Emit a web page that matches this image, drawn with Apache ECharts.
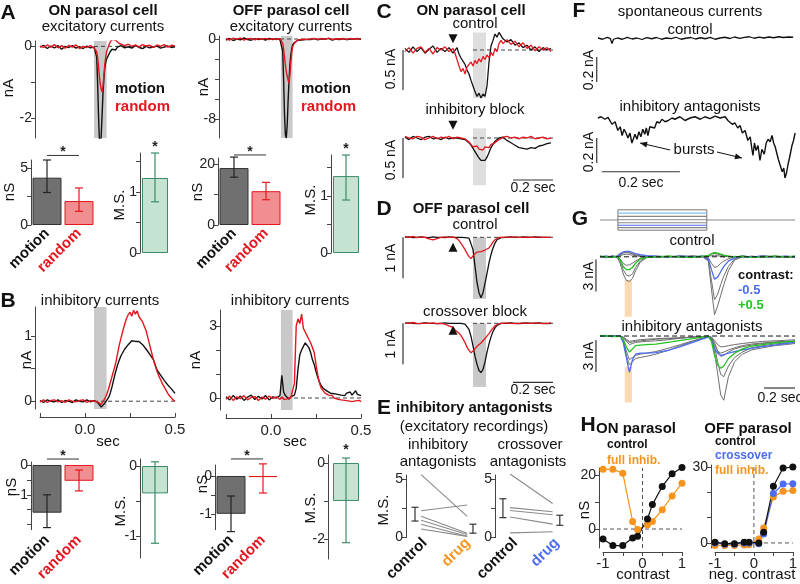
<!DOCTYPE html>
<html><head><meta charset="utf-8"><title>Figure</title>
<script src="https://cdn.jsdelivr.net/npm/echarts@6.0.0/dist/echarts.min.js"></script>
<style>html,body{margin:0;padding:0;background:#fff;}#chart{width:800px;height:584px;}</style>
</head><body><div id="chart"></div>
<script>
// ================= DATA =================
// Panel A: excitatory currents (nA) vs time (s)
const tA = [-0.25,-0.23,-0.21,-0.19,-0.17,-0.15,-0.13,-0.11,-0.09,-0.07,-0.05,-0.03,-0.01,0.01,0.03,0.05,0.06,0.065,0.07,0.075,0.08,0.085,0.09,0.095,0.1,0.105,0.11,0.115,0.12,0.13,0.14,0.15,0.16,0.17,0.18,0.19,0.2,0.22,0.24,0.26,0.28,0.3,0.32,0.34,0.36,0.38,0.4,0.42,0.44,0.46,0.48,0.5];
const aOnMotion = [-0.02,0.03,-0.06,0.01,-0.04,0.02,-0.08,0.0,-0.03,0.02,-0.05,-0.01,-0.06, 0.01,-0.04,-0.02, -0.05,-0.3,-1.0,-1.9,-2.6,-2.8,-2.5,-1.9,-1.3,-0.9,-0.6,-0.45,-0.35, -0.25,-0.15,-0.08,-0.04,-0.1,-0.02,-0.05,0.02, -0.04,-0.01,-0.05,0.02,-0.03,-0.06,0.0,-0.04,-0.02,0.01,-0.05,-0.02,0.01,-0.03,-0.01];
const aOnRandom = [0.01,-0.03,0.04,-0.02,0.05,-0.04,0.02,-0.05,0.03,-0.02,0.04,-0.06,0.0, -0.03,0.02,-0.05, -0.08,-0.15,-0.3,-0.55,-0.85,-1.05,-1.2,-1.27,-1.1,-0.8,-0.5,-0.3,-0.15, 0.0,0.12,0.2,0.22,0.17,0.12,0.08,0.05, 0.02,0.06,0.0,0.04,-0.02,0.05,0.01,0.03,-0.03,0.04,0.0,0.05,-0.02,0.03,0.01];
const aOffMotion = [-0.1,0.05,-0.15,0.0,-0.08,0.1,-0.05,-0.12,0.04,-0.06,0.02,-0.1,0.05, -0.05,0.03,-0.08, -0.2,-1.2,-4.0,-7.5,-9.6,-9.9,-8.6,-6.2,-4.2,-2.6,-1.6,-1.0,-0.6, -0.35,-0.2,-0.12,-0.05,-0.1,0.02,-0.06,0.03, -0.05,0.04,-0.08,0.02,-0.04,0.06,-0.1,0.0,-0.05,0.03,-0.07,0.02,-0.03,0.05,-0.02];
const aOffRandom = [0.05,-0.1,0.08,-0.04,0.1,-0.12,0.03,0.06,-0.08,0.05,-0.03,0.07,-0.06, 0.02,-0.05,0.04, -0.1,-0.4,-1.0,-1.8,-2.6,-3.3,-3.5,-4.1,-4.4,-3.6,-2.4,-1.4,-0.8, -0.4,-0.2,-0.1,0.05,-0.05,0.08,-0.02,0.04, 0.0,0.06,-0.04,0.05,-0.02,0.08,-0.06,0.03,0.0,0.05,-0.04,0.06,-0.02,0.03,0.01];
const bandOn = [0.05, 0.12];
const bandOff = [0.055, 0.12];

// Panel A bars
const barCats = ['motion', 'random'];
const aOnNS = [4.15, 2.1],  aOnNSlo = [2.85, 1.2],  aOnNShi = [5.7, 3.25];
const aOnMS = [1.23],       aOnMSlo = [0.84],       aOnMShi = [1.64];
const aOffNS = [18.7, 11.1], aOffNSlo = [15.7, 8.3], aOffNShi = [22.3, 14.0];
const aOffMS = [1.35],      aOffMSlo = [0.93],      aOffMShi = [1.72];

// Panel B: inhibitory currents (nA)
const tB = [-0.25,-0.23,-0.21,-0.19,-0.17,-0.15,-0.13,-0.11,-0.09,-0.07,-0.05,-0.03,-0.01,0.01,0.03,0.05,0.06,0.07,0.08,0.09,0.1,0.11,0.12,0.13,0.14,0.15,0.16,0.17,0.18,0.19,0.2,0.21,0.22,0.23,0.24,0.25,0.26,0.27,0.28,0.29,0.3,0.31,0.32,0.33,0.34,0.35,0.36,0.37,0.38,0.39,0.4,0.41,0.42,0.43,0.44,0.45,0.46,0.47,0.48,0.49,0.5];
const bOnMotion = [0.01,-0.02,0.02,0.0,-0.01,0.02,-0.02,0.01,0.0,-0.02,0.02,0.0,-0.01,0.02,-0.01,0.01,
 0.0,-0.02,-0.05,-0.09,-0.07, -0.03,0.0,0.05,0.12,0.22,0.34,0.45,0.55,0.63,0.7, 0.75,0.8,0.83,0.87,0.9,0.93,0.96,0.92,0.95,0.92, 0.9,0.87,0.84,0.8,0.77,0.72,0.7,0.64,0.56,0.48, 0.45,0.4,0.37,0.32,0.3,0.25,0.24,0.19,0.16,0.12];
const bOnRandom = [-0.01,0.02,-0.02,0.01,0.02,-0.01,0.01,-0.02,0.02,0.0,-0.01,0.01,0.02,-0.02,0.01,0.0,
 0.01,-0.01,-0.03,-0.05,-0.02, 0.04,0.1,0.18,0.28,0.38,0.48,0.58,0.72,0.86,0.97, 1.08,1.18,1.27,1.33,1.37,1.31,1.4,1.34,1.39,1.3, 1.27,1.22,1.15,1.08,0.97,0.86,0.75,0.64,0.55,0.46, 0.39,0.33,0.27,0.22,0.17,0.12,0.08,0.05,0.02,0.0];
const bOffMotion = [0.05,-0.08,0.1,-0.05,0.08,-0.1,0.04,0.12,-0.06,0.07,-0.04,0.1,-0.08,0.05,0.0,0.1,
 0.95,0.25,0.1,0.05,-0.05, 0.05,0.08,0.12,0.4,1.2,1.8,2.0,2.15,2.3,2.25, 2.1,1.9,1.6,1.4,1.1,0.85,0.65,0.5,0.4,0.35, 0.3,0.28,0.2,0.25,0.18,0.22,0.15,0.2,0.12,0.18, 0.1,0.2,0.14,0.25,0.12,0.18,0.3,0.15,0.22,0.1];
const bOffRandom = [-0.05,0.08,-0.1,0.05,-0.03,0.1,-0.08,0.02,0.06,-0.1,0.04,-0.05,0.08,-0.02,0.05,-0.06,
 0.05,-0.05,0.03,-0.04,0.0, 0.02,0.08,0.6,3.0,3.3,3.1,3.5,2.9,2.75,2.6, 2.45,2.3,2.1,1.9,1.4,0.95,0.6,0.4,0.3,0.2, 0.15,0.12,0.05,0.1,0.0,0.05,-0.05,0.02,-0.08,0.0, -0.1,-0.04,-0.12,-0.05,-0.15,-0.08,-0.12,-0.18,-0.1,-0.15];

// Panel B bars
const bOnNS = [-1.6, -0.53],  bOnNSlo = [-2.1, -0.87],  bOnNShi = [-1.0, -0.17];
const bOnMS = [-0.39],        bOnMSlo = [-1.1],         bOnMShi = [0.06];
const bOffNS = [-1.0, -0.03], bOffNSlo = [-1.47, -0.45], bOffNShi = [-0.53, 0.32];
const bOffMS = [-1.0],        bOffMSlo = [-2.1],        bOffMShi = [0.13];

// Panels C, D (nA vs s)
const tC = [0.01,0.03,0.05,0.07,0.09,0.11,0.13,0.15,0.17,0.19,0.21,0.23,0.25,0.26,0.27,0.28,0.29,0.3,0.31,0.32,0.33,0.34,0.35,0.36,0.37,0.38,0.39,0.4,0.41,0.42,0.43,0.44,0.45,0.46,0.47,0.48,0.49,0.5,0.52,0.54,0.56,0.58,0.6,0.62,0.64,0.66,0.68,0.7,0.72,0.74];
const cCtrlMotion = [0.02,-0.03,0.04,-0.02,0.03,-0.04,0.01,0.05,-0.03,0.02,-0.02,0.03,-0.04, -0.02,0.03,-0.05,-0.1,-0.08,-0.18,-0.25,-0.3,-0.38,-0.45,-0.52,-0.58,-0.54,-0.6,-0.55,-0.58,-0.45,-0.15,0.05,0.12,0.2,0.16,0.22,0.18,0.14, 0.1,0.13,0.06,0.09,0.03,0.06,0.0,0.04,-0.02,0.03,0.0,0.02];
const cCtrlRandom = [-0.02,0.03,-0.04,0.02,0.04,-0.03,0.02,-0.05,0.03,0.0,0.04,-0.02,0.02, -0.04,-0.12,-0.2,-0.27,-0.23,-0.3,-0.21,-0.19,-0.15,-0.2,-0.13,-0.17,-0.11,-0.15,-0.08,-0.12,-0.06,-0.1,-0.03,-0.07,0.02,-0.02,0.08,0.12,0.08, 0.13,0.07,0.11,0.04,0.09,0.02,0.06,-0.01,0.04,0.0,0.03,-0.02];
const cBlockMotion = [0.01,-0.02,0.02,0.0,-0.02,0.01,0.02,-0.01,0.0,-0.02,0.01,-0.01,0.0, -0.01,0.0,-0.02,-0.01,-0.03,-0.02,-0.04,-0.06,-0.09,-0.13,-0.17,-0.21,-0.25,-0.28,-0.3,-0.28,-0.24,-0.18,-0.12,-0.08,-0.04,-0.02,0.0,0.02,0.01, -0.03,-0.06,-0.09,-0.12,-0.13,-0.14,-0.12,-0.13,-0.1,-0.09,-0.07,-0.06];
const cBlockRandom = [0.02,0.0,-0.01,0.02,0.01,-0.02,0.0,0.02,-0.01,0.01,0.0,0.02,-0.01, 0.0,0.01,-0.01,0.0,-0.02,-0.01,-0.03,-0.05,-0.08,-0.11,-0.13,-0.1,-0.14,-0.12,-0.15,-0.11,-0.09,-0.12,-0.08,-0.1,-0.06,-0.04,-0.02,0.0,0.01, 0.02,0.0,0.01,-0.01,0.01,0.0,0.02,-0.01,0.0,0.01,-0.01,0.0];
const dCtrlMotion = [0.0,0.01,-0.01,0.0,0.01,0.0,-0.01,0.01,0.0,0.0,-0.01,0.01,0.0, 0.0,0.0,0.01,0.0,0.0,-0.01,0.0,-0.02,-0.06,-0.3,-0.7,-1.1,-1.35,-1.47,-1.35,-1.12,-0.88,-0.62,-0.42,-0.26,-0.14,-0.06,-0.03,-0.01,0.0, 0.0,0.01,0.0,0.0,0.01,0.0,0.0,0.01,0.0,0.0,0.0,0.0];
const dCtrlRandom = [0.02,0.0,0.02,-0.01,0.01,0.0,-0.04,-0.06,-0.03,0.0,0.01,0.0,0.01, -0.01,-0.03,-0.08,-0.15,-0.22,-0.3,-0.39,-0.47,-0.52,-0.45,-0.41,-0.36,-0.34,-0.35,-0.32,-0.31,-0.3,-0.26,-0.19,-0.11,-0.06,-0.02,0.0,0.01,0.0, 0.01,0.0,0.01,0.0,0.0,0.01,0.0,0.0,0.01,0.0,0.0,0.0];
const dCrossMotion = [0.0,0.01,0.0,-0.01,0.0,0.01,0.0,0.0,-0.01,0.0,0.01,0.0,0.0, 0.0,0.0,-0.01,0.0,-0.01,-0.02,-0.06,-0.15,-0.32,-0.55,-0.8,-1.0,-1.15,-1.2,-1.12,-0.94,-0.7,-0.5,-0.33,-0.2,-0.11,-0.05,-0.02,0.0,0.0, 0.0,0.01,0.0,-0.01,0.0,0.01,0.0,0.0,0.01,0.0,-0.01,0.0];
const dCrossRandom = [0.01,0.0,0.02,0.0,-0.01,0.01,0.0,0.01,-0.01,0.0,-0.02,-0.06,-0.1, -0.16,-0.2,-0.24,-0.3,-0.38,-0.47,-0.58,-0.66,-0.72,-0.7,-0.62,-0.56,-0.52,-0.48,-0.44,-0.37,-0.31,-0.25,-0.18,-0.12,-0.06,-0.03,-0.01,0.0,0.0, 0.01,0.0,-0.01,0.0,0.01,0.0,0.0,0.01,0.0,-0.01,0.0,0.01];
const bandCD = [0.35, 0.415];
const stimArrowT = 0.25;

// Panel E: modulation strength (control vs drug)
const eInhCtrl = [5.35, 2.28, 1.82, 1.47, 1.14, 0.73];
const eInhDrug = [1.8, 2.77, 0.38, 0.27, 0.11, 0.11];
const eInhCtrlErr = [1.41, 2.58], eInhDrugErr = [0.38, 1.14];
const eCrsCtrl = [5.4, 2.55, 2.3, 1.75, 0.4];
const eCrsDrug = [2.9, 2.2, 1.95, 1.15, 0.5];
const eCrsCtrlErr = [1.7, 3.3], eCrsDrugErr = [1.05, 1.9];

// Panel F: spontaneous currents (nA vs s)
const tFc = [0,0.012,0.024,0.032,0.036,0.04,0.05,0.063,0.075,0.088,0.1,0.113,0.125,0.138,0.15,0.163,0.175,0.188,0.2,0.213,0.225,0.238,0.25,0.263,0.275,0.288,0.3,0.313,0.325,0.338,0.35,0.363,0.375,0.388,0.4,0.413,0.425,0.438,0.45,0.463,0.475,0.488,0.5];
const fCtrl = [0.0,-0.01,0.005,-0.005,-0.045,-0.01,0.0,-0.01,0.005,-0.008,0.0,-0.012,0.003,-0.006,0.004,-0.01,0.0,-0.005,0.006,-0.01,-0.002,0.004,-0.008,0.002,-0.006,0.005,-0.01,0.0,0.006,-0.004,0.008,-0.003,0.005,0.01,-0.002,0.007,0.0,0.008,0.002,0.01,0.004,0.008,0.006];
const fAntag = [[0,0],[0.008,0.01],[0.018,-0.01],[0.026,0.005],[0.036,-0.05],[0.044,-0.03],[0.051,-0.1],[0.057,-0.07],[0.062,-0.14],[0.067,-0.09],[0.072,-0.12],[0.077,-0.16],[0.082,-0.12],[0.087,-0.2],[0.09,-0.19],[0.095,-0.13],[0.1,-0.17],[0.105,-0.11],[0.11,-0.15],[0.115,-0.09],[0.12,-0.13],[0.124,-0.08],[0.128,-0.14],[0.133,-0.07],[0.138,-0.06],[0.145,-0.08],[0.151,-0.03],[0.158,-0.04],[0.164,-0.01],[0.172,-0.03],[0.18,-0.02],[0.19,0.0],[0.197,-0.01],[0.21,0.01],[0.223,-0.02],[0.236,0.0],[0.249,0.01],[0.262,-0.01],[0.274,0.01],[0.287,-0.005],[0.3,0.015],[0.313,0.0],[0.326,0.01],[0.333,-0.02],[0.338,-0.01],[0.344,-0.05],[0.351,-0.04],[0.358,-0.08],[0.364,-0.06],[0.37,-0.12],[0.377,-0.1],[0.384,-0.18],[0.39,-0.15],[0.394,-0.24],[0.397,-0.3],[0.401,-0.2],[0.405,-0.26],[0.41,-0.22],[0.415,-0.34],[0.42,-0.25],[0.426,-0.29],[0.431,-0.2],[0.436,-0.17],[0.441,-0.19],[0.446,-0.14],[0.45,-0.2],[0.454,-0.23],[0.458,-0.28],[0.462,-0.33],[0.467,-0.38],[0.472,-0.43],[0.476,-0.4],[0.479,-0.48],[0.483,-0.44],[0.487,-0.37],[0.492,-0.3],[0.497,-0.22],[0.501,-0.18],[0.505,-0.12]];

// Panel G: contrast series (nA vs s)
const tG = [0,0.04,0.08,0.11,0.13,0.15,0.17,0.19,0.21,0.23,0.26,0.3,0.36,0.44,0.52,0.6,0.66,0.7,0.72,0.74,0.76,0.78,0.8,0.83,0.87,0.92,0.98,1.05,1.13,1.2,1.26];
const gStim = [0.116, 0.69];
const gCtrlGray = [
 [0.05,-0.1,0.1,0.0,-0.6,-1.6,-2.2,-2.3,-2.0,-1.3,-0.5,-0.1,0.05,-0.05,0.1,0.0,0.05,0.1,0.3,0.35,0.3,0.2,0.1,0.05,0.0,0.05,-0.05,0.1,0.0,0.05,0.0],
 [0.0,0.05,-0.05,0.0,-0.4,-1.2,-1.7,-1.8,-1.6,-1.0,-0.4,0.0,-0.05,0.05,0.0,0.1,0.0,0.05,0.25,0.3,0.25,0.15,0.1,0.0,0.05,-0.05,0.05,0.0,0.05,-0.05,0.0],
 [0.05,0.0,0.05,-0.05,-0.2,-0.6,-0.8,-0.75,-0.6,-0.4,-0.15,0.0,0.05,0.0,0.05,-0.05,0.0,0.05,0.1,0.15,0.1,0.05,0.0,0.05,0.0,0.05,0.0,-0.05,0.05,0.0,0.05],
 [0.0,0.05,-0.05,0.05,0.2,0.4,0.45,0.4,0.3,0.2,0.1,0.05,0.0,0.05,-0.05,0.0,0.05,-0.4,-3.0,-5.4,-4.6,-3.6,-2.6,-1.3,-0.3,0.0,0.05,-0.05,0.05,0.0,0.05],
 [0.05,0.0,0.05,0.0,0.15,0.35,0.4,0.35,0.25,0.15,0.05,0.0,0.05,0.0,0.05,-0.05,0.0,-0.3,-2.2,-4.0,-3.5,-2.6,-1.8,-0.9,-0.2,0.05,0.0,0.05,0.0,-0.05,0.0],
 [0.0,-0.05,0.05,0.0,0.1,0.2,0.25,0.2,0.15,0.1,0.05,0.0,-0.05,0.05,0.0,0.05,0.0,-0.1,-0.6,-1.0,-0.9,-0.6,-0.4,-0.2,0.0,0.05,-0.05,0.0,0.05,0.0,-0.05]
];
const gCtrlNeg05 = [0.0,0.05,0.0,0.05,0.3,0.45,0.5,0.5,0.4,0.3,0.2,0.1,0.05,0.0,0.05,0.0,0.05,-0.2,-1.2,-2.1,-1.9,-1.4,-0.9,-0.4,-0.1,0.05,0.0,0.05,0.0,0.05,0.0];
const gCtrlPos05 = [0.05,0.0,-0.05,0.05,-0.3,-0.9,-1.2,-1.2,-1.0,-0.6,-0.2,-0.05,0.0,0.05,0.0,-0.05,0.05,0.1,0.3,0.4,0.35,0.25,0.15,0.05,0.0,0.05,-0.05,0.0,0.05,0.0,0.05];
const gAntGray = [
 [0.0,0.05,-0.05,0.0,0.0,-0.1,-0.3,-0.5,-0.45,-0.4,-0.35,-0.3,-0.25,-0.2,-0.15,-0.1,-0.05,0.0,-0.3,-1.5,-3.5,-5.5,-6.0,-3.8,-2.4,-1.7,-1.3,-1.1,-0.9,-0.8,-0.7],
 [0.05,0.0,0.05,-0.05,0.0,-0.1,-0.4,-0.6,-0.55,-0.5,-0.45,-0.4,-0.3,-0.25,-0.2,-0.1,-0.05,0.0,-0.2,-1.0,-2.4,-3.6,-3.8,-2.8,-2.0,-1.5,-1.1,-0.9,-0.75,-0.65,-0.6],
 [0.0,-0.05,0.05,0.0,0.0,-0.4,-1.8,-2.7,-2.4,-2.1,-2.0,-1.9,-1.7,-1.35,-0.9,-0.5,-0.2,-0.05,-0.1,-0.4,-0.8,-1.0,-1.0,-0.9,-0.8,-0.7,-0.6,-0.5,-0.45,-0.4,-0.35],
 [0.05,0.0,-0.05,0.05,0.0,-0.3,-1.4,-2.2,-2.0,-1.8,-1.7,-1.6,-1.45,-1.15,-0.8,-0.45,-0.2,-0.05,-0.2,-0.8,-1.4,-1.6,-1.5,-1.3,-1.1,-0.9,-0.75,-0.65,-0.55,-0.5,-0.45],
 [0.0,0.05,0.0,-0.05,0.0,-0.1,-0.5,-0.8,-0.7,-0.6,-0.55,-0.5,-0.45,-0.35,-0.2,-0.1,-0.05,0.0,-0.1,-0.6,-1.4,-1.9,-1.8,-1.5,-1.2,-1.0,-0.85,-0.7,-0.6,-0.55,-0.5]
];
const gAntNeg05 = [0.0,0.05,-0.05,0.0,0.0,-0.6,-2.0,-3.4,-2.2,-1.7,-1.6,-1.6,-1.55,-1.35,-1.0,-0.6,-0.3,-0.1,-0.4,-1.2,-1.6,-1.8,-1.75,-1.6,-1.45,-1.3,-1.15,-1.0,-0.85,-0.7,-0.6];
const gAntPos05 = [0.05,0.0,0.0,-0.05,0.0,-0.3,-1.0,-1.5,-1.2,-0.9,-0.85,-0.8,-0.75,-0.6,-0.4,-0.25,-0.1,0.0,-0.5,-1.8,-2.7,-3.0,-2.8,-2.1,-1.6,-1.2,-0.95,-0.8,-0.65,-0.55,-0.5];

// Panel H: conductance (nS) vs contrast
const hContrast = [-1,-0.75,-0.5,-0.25,-0.125,0.125,0.25,0.5,0.75,1];
const hOnCtrl = [-3.7,-6.1,-6.1,-3.3,-2.7,3.7,9.0,15.7,20.4,22.7];
const hOnInhib = [22,22,20.6,2.8,-0.2,1.6,2.8,7.1,12.2,16.9];
const hOffCtrl = [0.3,-0.3,-0.3,0.3,0.3,0.0,4.2,22.4,29.6,30.0];
const hOffCross = [0.0,-0.5,-0.5,0.0,0.0,-0.3,3.5,19.5,23.3,23.4];
const hOffInhib = [-1,-1,-1,-0.8,-0.7,1.6,5.9,18.2,20.4,20.7];

// ================= BUILD =================
const FONT = "'Liberation Sans', Arial, Helvetica, sans-serif";
const BLK='#111111', RED='#e5171e', ORANGE='#f7941d', BLUE='#4d6cf0', GREEN='#22c322', LBLUE='#7cc0f0', AXC='#444444';
const GRAYT='#6e6e6e', MS_FILL='#c4e3d2', MS_EDGE='#3b8c66';
const grids=[], xAxes=[], yAxes=[], series=[], graphics=[];

function addGrid(l,t,w,h,xa,ya){const i=grids.length;grids.push({left:l,top:t,width:w,height:h,containLabel:false});xa.gridIndex=i;ya.gridIndex=i;xAxes.push(xa);yAxes.push(ya);return i;}
function hid(min,max){return {type:'value',min:min,max:max,show:false,splitLine:{show:false}};}
function vAx(min,max,ticks,labels,offset){
  return {type:'value',min:min,max:max,show:true,offset:offset||0,
    axisLine:{show:true,onZero:false,lineStyle:{color:AXC,width:1}},
    axisTick:{show:true,length:4,customValues:ticks,lineStyle:{color:AXC,width:1}},
    axisLabel:{show:true,customValues:labels,fontSize:14,color:'#222',margin:3,fontFamily:FONT,
      formatter:function(v){return labels.some(function(l){return Math.abs(l-v)<1e-9;})?String(v):'';}},
    splitLine:{show:false}};
}
function trace(gi,t,v,color,w,z){const d=[];const n=Math.min(t.length,v.length);for(let k=0;k<n;k++)d.push([t[k],v[k]]);
  series.push({type:'line',xAxisIndex:gi,yAxisIndex:gi,data:d,symbol:'none',showSymbol:false,lineStyle:{color:color,width:w||1.2},animation:false,silent:true,z:z||3,clip:true});}
function tracePairs(gi,d,color,w,z){series.push({type:'line',xAxisIndex:gi,yAxisIndex:gi,data:d,symbol:'none',showSymbol:false,lineStyle:{color:color,width:w||1.2},animation:false,silent:true,z:z||3,clip:true});}
function cust(gi,data,render,z){series.push({type:'custom',xAxisIndex:gi,yAxisIndex:gi,data:data,renderItem:render,animation:false,silent:true,z:z||2,clip:false});}
function segR(style){return function(p,api){const a=api.coord([api.value(0),api.value(1)]),b=api.coord([api.value(2),api.value(3)]);
  return {type:'line',shape:{x1:a[0],y1:a[1],x2:b[0],y2:b[1]},style:Object.assign({stroke:'#111',lineWidth:1},style)};};}
function bandR(fill){return function(p,api){const a=api.coord([api.value(0),api.value(3)]),b=api.coord([api.value(1),api.value(2)]);
  return {type:'rect',shape:{x:a[0],y:a[1],width:b[0]-a[0],height:b[1]-a[1]},style:{fill:fill}};};}
function errR(colors,cap){return function(p,api){const a=api.coord([api.value(0),api.value(1)]),b=api.coord([api.value(0),api.value(2)]);const c=colors[api.value(3)]||colors[0];const s={stroke:c,lineWidth:1.2};
  return {type:'group',children:[{type:'line',shape:{x1:a[0],y1:a[1],x2:b[0],y2:b[1]},style:s},{type:'line',shape:{x1:a[0]-cap,y1:a[1],x2:a[0]+cap,y2:a[1]},style:s},{type:'line',shape:{x1:b[0]-cap,y1:b[1],x2:b[0]+cap,y2:b[1]},style:s}]};};}
function sigR(p,api){const a=api.coord([api.value(0),api.value(2)]),b=api.coord([api.value(1),api.value(2)]);const ch=[];
  if(b[0]-a[0]>1)ch.push({type:'line',shape:{x1:a[0],y1:a[1],x2:b[0],y2:b[1]},style:{stroke:'#333',lineWidth:1}});
  ch.push({type:'text',x:(a[0]+b[0])/2,y:a[1]-3,style:{text:'*',fill:'#222',font:'bold 14px '+FONT,align:'center',textAlign:'center',verticalAlign:'middle',textVerticalAlign:'middle'}});
  return {type:'group',children:ch};}
function triR(down){return function(p,api){const c=api.coord([api.value(0),api.value(1)]);const s=4.5;
  const pts=down?[[c[0]-s,c[1]-s],[c[0]+s,c[1]-s],[c[0],c[1]+s]]:[[c[0]-s,c[1]+s],[c[0]+s,c[1]+s],[c[0],c[1]-s]];
  return {type:'polygon',shape:{points:pts},style:{fill:'#111'}};};}
function arrowR(p,api){const a=api.coord([api.value(0),api.value(1)]),b=api.coord([api.value(2),api.value(3)]);const ang=Math.atan2(b[1]-a[1],b[0]-a[0]);const L=7,W=3;
  const p1=[b[0]-L*Math.cos(ang)+W*Math.sin(ang),b[1]-L*Math.sin(ang)-W*Math.cos(ang)],p2=[b[0]-L*Math.cos(ang)-W*Math.sin(ang),b[1]-L*Math.sin(ang)+W*Math.cos(ang)];
  return {type:'group',children:[{type:'line',shape:{x1:a[0],y1:a[1],x2:b[0],y2:b[1]},style:{stroke:'#111',lineWidth:1}},{type:'polygon',shape:{points:[b,p1,p2]},style:{fill:'#111'}}]};}
function boxR(p,api){const a=api.coord([api.value(0),api.value(3)]),b=api.coord([api.value(1),api.value(2)]);
  return {type:'rect',shape:{x:a[0],y:a[1],width:b[0]-a[0],height:b[1]-a[1]},style:{fill:'#fff',stroke:'#777',lineWidth:1}};}
function T(text,x,y,o){o=o||{};graphics.push({type:'text',x:x,y:y,rotation:o.rot?Math.PI/2:0,silent:true,z:100,
  style:{text:text,fill:o.color||'#111',font:(o.bold?'bold ':'')+(o.size||15)+'px '+FONT,align:o.align||'center',textAlign:o.align||'center',verticalAlign:'middle',textVerticalAlign:'middle'}});}
const DASH={stroke:'#444',lineWidth:1,lineDash:[4,3]};

// bar panel builder
function barPanel(l,t,w,h,bw,cats,vals,lo,hi,ymin,ymax,ticks,labels,kind,showLab,margin){
  const xa={type:'category',data:cats,show:true,axisLine:{show:false},axisTick:{show:false},splitLine:{show:false},
    axisLabel:{show:showLab,interval:0,rotate:45,margin:margin,fontSize:15,fontWeight:'bold',fontFamily:FONT,color:function(v){return v==='random'?RED:BLK;}}};
  const gi=addGrid(l,t,w,h,xa,vAx(ymin,ymax,ticks,labels,0));
  const st = kind==='ms' ? [{color:MS_FILL,borderColor:MS_EDGE,borderWidth:1}] :
    [{color:'#707070',borderColor:'#333',borderWidth:1},{color:'#f08e91',borderColor:RED,borderWidth:1}];
  const ec = kind==='ms' ? [MS_EDGE] : ['#222',RED];
  series.push({type:'bar',xAxisIndex:gi,yAxisIndex:gi,barWidth:bw,data:vals.map(function(v,k){return {value:v,itemStyle:st[k]};}),animation:false,silent:true,z:2});
  cust(gi,vals.map(function(v,k){return [k,lo[k],hi[k],k];}),errR(ec,4),4);
  return gi;
}

// ---------- Panel A ----------
let g;
g=addGrid(40,41,135,97,hid(-0.25,0.5),vAx(-2.55,0.15,[0,-1,-2],[0,-2],5));
cust(g,[[bandOn[0],bandOn[1],-2.55,0.15]],bandR('#c9c9c9'),1);
cust(g,[[0.05,0,0.5,0]],segR(DASH),2);
trace(g,tA,aOnMotion,BLK,1.4,3); trace(g,tA,aOnRandom,RED,1.4,4);
g=addGrid(226,36,135,102,hid(-0.25,0.5),vAx(-9.9,0.3,[0,-2,-4,-6,-8],[0,-8],7));
cust(g,[[bandOff[0],bandOff[1],-9.9,0.3]],bandR('#c9c9c9'),1);
cust(g,[[0.05,0,0.5,0]],segR(DASH),2);
trace(g,tA,aOffMotion,BLK,1.4,3); trace(g,tA,aOffRandom,RED,1.4,4);

g=barPanel(31,160,64,65,29,barCats,aOnNS,aOnNSlo,aOnNShi,0,5.7,[0,2.5,5],[0,5],'ns',true,6);
cust(g,[[0,1,6.1]],sigR,5);
g=barPanel(140,153,30,100,26,['ms'],aOnMS,aOnMSlo,aOnMShi,0,1.64,[0,0.5,1,1.5],[0,1],'ms',false,6);
cust(g,[[0,0,aOnMShi[0]+0.05]],sigR,5);
g=barPanel(218,158,64,67,29,barCats,aOffNS,aOffNSlo,aOffNShi,0,22,[0,10,20],[0,20],'ns',true,6);
cust(g,[[0,1,23]],sigR,5);
g=barPanel(331,155,30,98,26,['ms'],aOffMS,aOffMSlo,aOffMShi,0,1.72,[0,0.5,1,1.5],[0,1],'ms',false,6);
cust(g,[[0,0,aOffMShi[0]+0.05]],sigR,5);

// ---------- Panel B ----------
function bX(){const x=vAx(-0.25,0.5,[-0.25,0,0.25,0.5],[0,0.5],8);x.axisTick.inside=true;x.axisLabel.fontSize=15;x.axisLabel.margin=5;
  x.axisLabel.formatter=function(v){return (Math.abs(v)<1e-9||Math.abs(v-0.5)<1e-9)?Number(v).toFixed(1):'';};return x;}
g=addGrid(40,307,135,102,bX(),vAx(-0.12,1.45,[0,0.5,1],[0,1],5));
cust(g,[[bandOn[0],bandOn[1],-0.12,1.45]],bandR('#c9c9c9'),1);
cust(g,[[0.05,0,0.5,0]],segR(DASH),2);
trace(g,tB,bOnMotion,BLK,1.4,3); trace(g,tB,bOnRandom,RED,1.4,4);
g=addGrid(226,310,135,100,bX(),vAx(-0.5,3.667,[0,1,2,3],[0,3],6));
cust(g,[[bandOff[0],bandOff[1],-0.5,3.667]],bandR('#c9c9c9'),1);
cust(g,[[0.05,0,0.5,0]],segR(DASH),2);
trace(g,tB,bOffMotion,BLK,1.4,3); trace(g,tB,bOffRandom,RED,1.4,4);

g=barPanel(31,462,64,68,29,barCats,bOnNS,bOnNSlo,bOnNShi,-2.17,0.1,[0,-0.5,-1,-1.5,-2],[0,-1],'ns',true,8);
cust(g,[[0,1,0.2]],sigR,5);
g=barPanel(140,459,30,99,26,['ms'],bOnMS,bOnMSlo,bOnMShi,-1.31,0.1,[0,-0.5,-1],[0,-1],'ms',false,6);
g=barPanel(215,465,64,65,29,barCats,bOffNS,bOffNSlo,bOffNShi,-1.42,0.29,[0,-0.5,-1],[0,-1],'ns',true,8);
cust(g,[[0,1,0.45]],sigR,5);
g=barPanel(328,455,36,104,26,['ms'],bOffMS,bOffMSlo,bOffMShi,-2.53,0.21,[0,-1,-2],[0,-2],'ms',false,6);
cust(g,[[0,0,bOffMShi[0]+0.12]],sigR,5);

// ---------- Panel C ----------
g=addGrid(403,30,150,70,hid(0,0.75),hid(-0.625,0.25));
cust(g,[[bandCD[0],bandCD[1],-0.6,0.22]],bandR('#dedede'),1);
cust(g,[[0.35,0,0.75,0]],segR(DASH),2);
cust(g,[[0,0,0,-0.5]],segR({stroke:'#333',lineWidth:1.2}),2);
trace(g,tC,cCtrlMotion,BLK,1.3,3); trace(g,tC,cCtrlRandom,RED,1.3,4);
cust(g,[[stimArrowT,0.14]],triR(true),5);
g=addGrid(403,118,150,70,hid(0,0.75),hid(-0.625,0.25));
cust(g,[[bandCD[0],bandCD[1],-0.59,0.12]],bandR('#dedede'),1);
cust(g,[[0.35,0,0.75,0]],segR(DASH),2);
cust(g,[[0,0,0,-0.5],[0.55,-0.525,0.75,-0.525]],segR({stroke:'#333',lineWidth:1.2}),2);
trace(g,tC,cBlockMotion,BLK,1.3,3); trace(g,tC,cBlockRandom,RED,1.3,4);
cust(g,[[stimArrowT,0.16]],triR(true),5);

// ---------- Panel D ----------
g=addGrid(403,225,150,78,hid(0,0.75),hid(-1.6,0.3));
cust(g,[[bandCD[0],bandCD[1],-1.5,0]],bandR('#c9c9c9'),1);
cust(g,[[0.35,0,0.75,0]],segR(DASH),2);
cust(g,[[0,0,0,-1]],segR({stroke:'#333',lineWidth:1.2}),2);
trace(g,tC,dCtrlMotion,BLK,1.3,3); trace(g,tC,dCtrlRandom,RED,1.3,4);
cust(g,[[stimArrowT,-0.24]],triR(false),5);
g=addGrid(403,311,150,78,hid(0,0.75),hid(-1.6,0.3));
cust(g,[[bandCD[0],bandCD[1],-1.55,0]],bandR('#c9c9c9'),1);
cust(g,[[0.35,0,0.75,0]],segR(DASH),2);
cust(g,[[0,0,0,-1],[0.55,-1.44,0.75,-1.44]],segR({stroke:'#333',lineWidth:1.2}),2);
trace(g,tC,dCrossMotion,BLK,1.3,3); trace(g,tC,dCrossRandom,RED,1.3,4);
cust(g,[[stimArrowT,-0.17]],triR(false),5);

// ---------- Panel E ----------
function eX(drugColor,pos){return {type:'value',min:0,max:1,show:true,axisLine:{show:false},axisTick:{show:false},splitLine:{show:false},
  axisLabel:{show:true,customValues:pos,rotate:45,margin:3,fontSize:15,fontWeight:'bold',fontFamily:FONT,
    formatter:function(v){return v<0.5?'control':'drug';},color:function(v){return v<0.5?BLK:drugColor;}}};}
g=addGrid(406,475,72,66,eX(ORANGE,[0.26,0.86]),vAx(0,5.32,[0,2.5,5],[0,5],0));
cust(g,eInhCtrl.map(function(c,k){return [0.21,c,0.85,eInhDrug[k]];}),segR({stroke:'#8a8a8a',lineWidth:1.1}),2);
cust(g,[[0.125,eInhCtrlErr[0],eInhCtrlErr[1],0],[0.93,eInhDrugErr[0],eInhDrugErr[1],0]],errR(['#333'],3.5),3);
g=addGrid(495,475,72,66,eX(BLUE,[0.28,0.86]),vAx(0,5.32,[0,2.5,5],[0,5],0));
cust(g,eCrsCtrl.map(function(c,k){return [0.21,c,0.8,eCrsDrug[k]];}),segR({stroke:'#8a8a8a',lineWidth:1.1}),2);
cust(g,[[0.11,eCrsCtrlErr[0],eCrsCtrlErr[1],0],[0.9,eCrsDrugErr[0],eCrsDrugErr[1],0]],errR(['#333'],3.5),3);

// ---------- Panel F ----------
g=addGrid(594,28,205,60,hid(-0.01,0.515),hid(-0.4,0.08));
trace(g,tFc,fCtrl,BLK,1.3,3);
cust(g,[[-0.003,-0.152,-0.003,-0.352]],segR({stroke:'#333',lineWidth:1.2}),2);
g=addGrid(594,108,205,75,hid(-0.01,0.515),hid(-0.52,0.08));
tracePairs(g,fAntag,BLK,1.4,3);
cust(g,[[-0.003,-0.16,-0.003,-0.36],[0.01,-0.43,0.21,-0.43]],segR({stroke:'#333',lineWidth:1.2}),2);
cust(g,[[0.185,-0.256,0.108,-0.2],[0.305,-0.272,0.369,-0.32]],arrowR,5);

// ---------- Panel G ----------
g=addGrid(600,209,195,22,hid(0,1.26),hid(0,8));
cust(g,[[0,4,1.26,4]],segR({stroke:'#888',lineWidth:1.2}),1);
cust(g,[[gStim[0],gStim[1],0.3,7.7]],boxR,2);
const stimLines=[[6.5,LBLUE],[5.3,'#888'],[4.1,'#888'],[3.0,'#888'],[2.1,BLUE],[1.2,'#888']];
cust(g,stimLines.map(function(s){return [gStim[0],s[0],gStim[1],s[0]];}),function(p,api){const a=api.coord([api.value(0),api.value(1)]),b=api.coord([api.value(2),api.value(3)]);
  return {type:'line',shape:{x1:a[0],y1:a[1],x2:b[0],y2:b[1]},style:{stroke:stimLines[p.dataIndex][1],lineWidth:1.2}};},3);

g=addGrid(600,245,195,75,hid(0,1.26),hid(-5.9,1.1));
cust(g,[[0.16,0.206,-5.6,-2.15]],bandR('#fbd9b3'),1);
gCtrlGray.forEach(function(v){trace(g,tG,v,GRAYT,1,3);});
trace(g,tG,gCtrlNeg05,BLUE,1.3,4); trace(g,tG,gCtrlPos05,GREEN,1.3,4);
cust(g,[[0,0,1.26,0]],segR({stroke:'#111',lineWidth:1,lineDash:[5,3]}),6);
cust(g,[[-0.026,-0.25,-0.026,-3.25]],segR({stroke:'#333',lineWidth:1.2}),2);

g=addGrid(600,328,195,76.5,hid(0,1.26),hid(-6.4,0.75));
cust(g,[[0.16,0.206,-6.2,-2.9]],bandR('#fbd9b3'),1);
gAntGray.forEach(function(v){trace(g,tG,v,GRAYT,1,3);});
trace(g,tG,gAntNeg05,BLUE,1.3,4); trace(g,tG,gAntPos05,GREEN,1.3,4);
cust(g,[[0,0,1.26,0]],segR({stroke:'#111',lineWidth:1,lineDash:[5,3]}),6);
cust(g,[[-0.026,-0.37,-0.026,-3.37],[1.06,-4.86,1.26,-4.86]],segR({stroke:'#333',lineWidth:1.2}),2);

// ---------- Panel H ----------
function hLine(gi,y,color){series.push({type:'line',xAxisIndex:gi,yAxisIndex:gi,data:hContrast.map(function(x,k){return [x,y[k]];}),symbol:'circle',symbolSize:7,showSymbol:true,
  lineStyle:{color:color,width:1.2},itemStyle:{color:color,borderWidth:0},animation:false,silent:true,z:5,clip:false});}
function hX(){const x=vAx(-1,1,[-1,-0.5,0,0.5,1],[-1,0,1],4);x.axisLabel.fontSize=15;x.axisLabel.margin=4;return x;}
g=addGrid(603,468,79,80,hX(),vAx(-7,22.5,[0,10,20],[0,20],4));
cust(g,[[0,-7,0,22.5],[-1,0,1,0]],segR({stroke:'#555',lineWidth:1,lineDash:[4,3]}),2);
hLine(g,hOnInhib,ORANGE); hLine(g,hOnCtrl,BLK);
g=addGrid(715,465,79,83,hX(),vAx(-2,30.8,[0,10,20,30],[0,30],4));
cust(g,[[0,-2,0,30.8],[-1,0,1,0]],segR({stroke:'#555',lineWidth:1,lineDash:[4,3]}),2);
hLine(g,hOffInhib,ORANGE); hLine(g,hOffCross,BLUE); hLine(g,hOffCtrl,BLK);

// ---------- Texts ----------
T('A',8,13,{bold:1,size:21}); T('ON parasol cell',103,11,{bold:1}); T('excitatory currents',103,27);
T('OFF parasol cell',291,11,{bold:1}); T('excitatory currents',291,27);
T('nA',9,88,{rot:1}); T('nA',204,87,{rot:1});
T('motion',115,89,{bold:1,align:'left'}); T('random',115,107,{bold:1,align:'left',color:RED});
T('motion',301,89,{bold:1,align:'left'}); T('random',301,107,{bold:1,align:'left',color:RED});
T('nS',10,192,{rot:1}); T('nS',198,192,{rot:1}); T('M.S.',120,205,{rot:1}); T('M.S.',311,200,{rot:1});
T('B',8,301,{bold:1,size:21}); T('inhibitory currents',100,301); T('inhibitory currents',290,301);
T('nA',27,360,{rot:1}); T('nA',196,360,{rot:1}); T('sec',108,442); T('sec',295,442);
T('nS',12,487,{rot:1}); T('nS',203,484,{rot:1}); T('M.S.',121,511,{rot:1}); T('M.S.',311,508,{rot:1});
T('C',384,12,{bold:1,size:21}); T('ON parasol cell',471,11,{bold:1}); T('control',475,24); T('inhibitory block',475,110);
T('0.5 nA',391,69,{rot:1,size:14}); T('0.5 nA',391,160,{rot:1,size:14}); T('0.2 sec',533,188,{size:14});
T('D',384,209,{bold:1,size:21}); T('OFF parasol cell',471,209,{bold:1}); T('control',475,225); T('crossover block',475,312);
T('1 nA',391,258,{rot:1,size:14}); T('1 nA',391,344,{rot:1,size:14}); T('0.2 sec',533,390,{size:14});
T('E',384,408,{bold:1,size:21}); T('inhibitory antagonists',396,408,{bold:1,align:'left'}); T('(excitatory recordings)',474,427);
T('inhibitory',438,445); T('antagonists',438,462); T('crossover',530,445); T('antagonists',528,462); T('M.S.',384,510,{rot:1});
T('F',579,11,{bold:1,size:21}); T('spontaneous currents',690,12); T('control',690,30); T('0.2 nA',589,70,{rot:1,size:14});
T('inhibitory antagonists',690,107); T('bursts',694,150); T('0.2 nA',589,152,{rot:1,size:14}); T('0.2 sec',641,183,{size:14});
T('G',580,219,{bold:1,size:21}); T('control',692,241); T('3 nA',589,276,{rot:1,size:14});
T('contrast:',738,275,{bold:1,size:13,align:'left'}); T('-0.5',738,290,{bold:1,size:13,align:'left',color:BLUE}); T('+0.5',738,305,{bold:1,size:13,align:'left',color:GREEN});
T('inhibitory antagonists',692,327); T('3 nA',589,356,{rot:1,size:14}); T('0.2 sec',780,398,{size:14});
T('H',588,425,{bold:1,size:21}); T('ON parasol',636,429,{bold:1}); T('control',607,445,{bold:1,size:12,align:'left'}); T('full inhib.',607,461,{bold:1,size:12,align:'left',color:ORANGE});
T('OFF parasol',748,429,{bold:1}); T('control',715,442,{bold:1,size:12,align:'left'}); T('crossover',715,456,{bold:1,size:12,align:'left',color:BLUE}); T('full inhib.',715,471,{bold:1,size:12,align:'left',color:ORANGE});
T('nS',585,510,{rot:1}); T('contrast',643,575); T('neg. contrast',752,575);

const chart = echarts.init(document.getElementById('chart'), null, {renderer:'canvas'});
chart.setOption({animation:false,backgroundColor:'#ffffff',textStyle:{fontFamily:FONT},grid:grids,xAxis:xAxes,yAxis:yAxes,series:series,graphic:{elements:graphics}});
</script></body></html>
